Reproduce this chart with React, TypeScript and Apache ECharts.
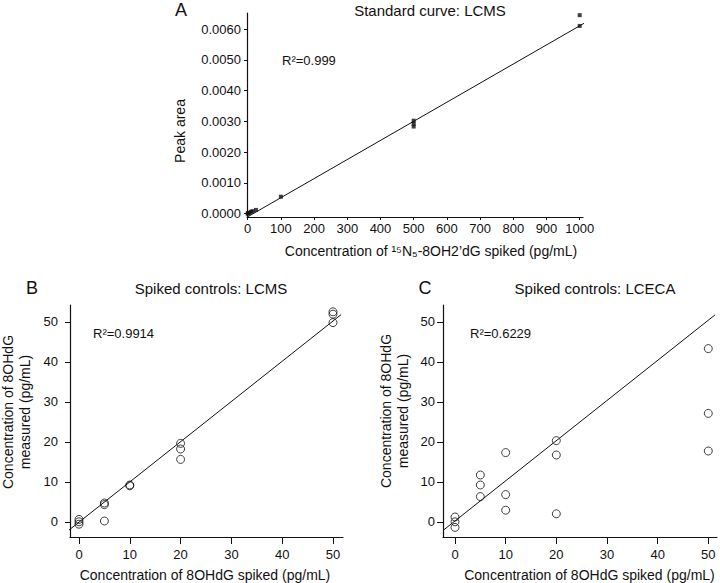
import React, { useEffect, useRef } from "react";
import * as echarts from "echarts";

// Panel A: standard curve LCMS
const stdConc = [0, 1, 2.5, 5, 10, 15, 25, 100, 500, 500, 500, 1000, 1000];
const stdArea = [0.0, 0.00001, 0.00002, 0.00003, 0.00006, 0.00008, 0.00012, 0.00055, 0.00283, 0.00292, 0.00302, 0.0061, 0.00645];
const fitAX = [-1, 1022];
const fitAY = [-0.00011, 0.00624];
const ticksAX = [0, 100, 200, 300, 400, 500, 600, 700, 800, 900, 1000];
const ticksAY = [0, 0.001, 0.002, 0.003, 0.004, 0.005, 0.006];

// Panel B: spiked controls LCMS
const lcmsSpiked = [0, 0, 0, 5, 5, 5, 10, 10, 20, 20, 20, 50, 50, 50];
const lcmsMeasured = [0.6, 0, -0.6, 4.7, 4.3, 0.2, 9.2, 9.0, 19.6, 18.2, 15.6, 52.5, 51.9, 49.8];
const fitBX = [-2.0, 51.6];
const fitBY = [-2.1, 51.8];

// Panel C: spiked controls LCECA
const lcecaSpiked = [0, 0, 0, 5, 5, 5, 10, 10, 10, 20, 20, 20, 50, 50, 50];
const lcecaMeasured = [1.2, 0, -1.4, 11.7, 9.2, 6.3, 17.3, 6.8, 2.9, 20.3, 16.7, 2.0, 43.3, 27.1, 17.7];
const fitCX = [-2.3, 51.3];
const fitCY = [-2.1, 51.7];

const ticksBC = [0, 10, 20, 30, 40, 50];

const FONT = "'Liberation Sans', Arial, sans-serif";
const INK = "#111";

const zip = (xs: number[], ys: number[]) => xs.map((x, i) => [x, ys[i]]);

function axisCommon(ticks: number[], tickLen: number, margin: number, fmt?: (v: number) => string) {
  return {
    type: "value" as const,
    splitLine: { show: false },
    axisLine: { show: true, onZero: false, lineStyle: { color: INK, width: 1.2 } },
    axisTick: { show: true, inside: false, length: tickLen, customValues: ticks, lineStyle: { color: INK, width: 1 } },
    axisLabel: {
      show: true,
      customValues: ticks,
      margin,
      color: INK,
      fontSize: 13,
      fontFamily: FONT,
      formatter: fmt ? (v: number) => fmt(v) : (v: number) => String(v),
    },
  };
}

function txt(x: number, y: number, text: string, size: number, align = "center", rotation = 0, lineHeight?: number) {
  return {
    type: "text",
    x,
    y,
    rotation,
    style: {
      text,
      fill: INK,
      font: `${size}px ${FONT}`,
      fontSize: size,
      fontFamily: FONT,
      align,
      verticalAlign: "middle",
      lineHeight: lineHeight ?? size * 1.2,
    },
  };
}

export default function App() {
  const ref = useRef<HTMLDivElement>(null);
  useEffect(() => {
    if (!ref.current) return;
    const chart = echarts.init(ref.current, null, { renderer: "svg" });
    const option = {
      animation: false,
      backgroundColor: "#fff",
      grid: [
        { left: 247, top: 13, width: 336, height: 204 },
        { left: 70, top: 305, width: 273, height: 232 },
        { left: 443, top: 305, width: 274, height: 232 },
      ],
      xAxis: [
        { ...axisCommon(ticksAX, 3, 5), gridIndex: 0, min: -2, max: 1010 },
        { ...axisCommon(ticksBC, 7, 11), gridIndex: 1, min: -1.77, max: 51.97 },
        { ...axisCommon(ticksBC, 7, 11), gridIndex: 2, min: -2.37, max: 51.72 },
      ],
      yAxis: [
        { ...axisCommon(ticksAY, 3, 6, (v) => v.toFixed(4)), gridIndex: 0, min: -0.00011, max: 0.00652 },
        { ...axisCommon(ticksBC, 5, 12), gridIndex: 1, min: -3.8, max: 54.2 },
        { ...axisCommon(ticksBC, 6, 8), gridIndex: 2, min: -3.8, max: 54.2 },
      ],
      series: [
        {
          type: "line",
          xAxisIndex: 0,
          yAxisIndex: 0,
          data: zip(fitAX, fitAY),
          symbol: "none",
          clip: false,
          lineStyle: { color: INK, width: 1 },
        },
        {
          type: "scatter",
          xAxisIndex: 0,
          yAxisIndex: 0,
          data: zip(stdConc, stdArea),
          symbol: "rect",
          symbolSize: 4,
          clip: false,
          itemStyle: { color: INK },
        },
        {
          type: "line",
          xAxisIndex: 1,
          yAxisIndex: 1,
          data: zip(fitBX, fitBY),
          symbol: "none",
          clip: false,
          lineStyle: { color: INK, width: 1 },
        },
        {
          type: "scatter",
          xAxisIndex: 1,
          yAxisIndex: 1,
          data: zip(lcmsSpiked, lcmsMeasured),
          symbol: "circle",
          symbolSize: 8,
          clip: false,
          itemStyle: { color: "rgba(255,255,255,0)", borderColor: INK, borderWidth: 1 },
        },
        {
          type: "line",
          xAxisIndex: 2,
          yAxisIndex: 2,
          data: zip(fitCX, fitCY),
          symbol: "none",
          clip: false,
          lineStyle: { color: INK, width: 1 },
        },
        {
          type: "scatter",
          xAxisIndex: 2,
          yAxisIndex: 2,
          data: zip(lcecaSpiked, lcecaMeasured),
          symbol: "circle",
          symbolSize: 8,
          clip: false,
          itemStyle: { color: "rgba(255,255,255,0)", borderColor: INK, borderWidth: 1 },
        },
      ],
      graphic: [
        txt(181, 10, "A", 18),
        txt(430, 10, "Standard curve: LCMS", 15),
        txt(282, 60, "R²=0.999", 13, "left"),
        txt(180, 131, "Peak area", 14, "center", Math.PI / 2),
        txt(431, 251, "Concentration of ¹⁵N₅-8OH2’dG spiked (pg/mL)", 14),

        txt(32, 288, "B", 18),
        txt(211, 288, "Spiked controls: LCMS", 15),
        txt(93, 333, "R²=0.9914", 13, "left"),
        txt(16.5, 412, "Concentration of 8OHdG\nmeasured (pg/mL)", 14, "center", Math.PI / 2, 17),
        txt(205, 575, "Concentration of 8OHdG spiked (pg/mL)", 14),

        txt(425, 288, "C", 18),
        txt(595, 288, "Spiked controls: LCECA", 15),
        txt(470, 333, "R²=0.6229", 13, "left"),
        txt(394, 411, "Concentration of 8OHdG\nmeasured (pg/mL)", 14, "center", Math.PI / 2, 17),
        txt(589.5, 575, "Concentration of 8OHdG spiked (pg/mL)", 14),
      ],
    };
    chart.setOption(option as any);
    return () => chart.dispose();
  }, []);
  return <div ref={ref} style={{ width: 720, height: 583, position: "absolute", left: 0, top: 0 }} />;
}
